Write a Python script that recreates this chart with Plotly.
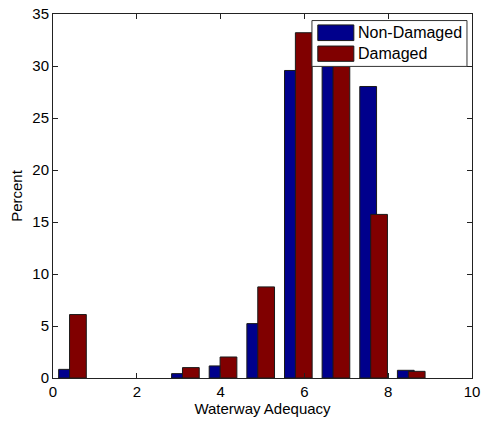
import plotly.graph_objects as go

# Bin centers (Waterway Adequacy)
bin_centers = [0.465, 1.363, 2.262, 3.16, 4.058, 4.957, 5.855, 6.753, 7.652, 8.55]
non_damaged = [0.83, 0.0, 0.0, 0.42, 1.16, 5.23, 29.57, 34.0, 28.03, 0.74]
damaged = [6.1, 0.0, 0.0, 1.0, 2.02, 8.76, 33.2, 32.5, 15.73, 0.64]
series_names = ["Non-Damaged", "Damaged"]
x_ticks = [0, 2, 4, 6, 8, 10]
y_ticks = [0, 5, 10, 15, 20, 25, 30, 35]

blue = "#00008C"
red = "#800000"
font_family = "Liberation Sans, Arial, Helvetica, sans-serif"


def edge_widths(vals):
    return [1 if v > 0 else 0 for v in vals]


fig = go.Figure()
fig.add_trace(go.Bar(x=bin_centers, y=non_damaged, name=series_names[0],
                     width=0.4, offset=-0.33,
                     marker=dict(color=blue, line=dict(color="#1a1a1a", width=edge_widths(non_damaged)))))
fig.add_trace(go.Bar(x=bin_centers, y=damaged, name=series_names[1],
                     width=0.4, offset=-0.07,
                     marker=dict(color=red, line=dict(color="#1a1a1a", width=edge_widths(damaged)))))

axis_common = dict(showline=True, linecolor="#222", linewidth=1, mirror="ticks", ticks="inside",
                   ticklen=5, tickcolor="#222", showgrid=False, zeroline=False, automargin=False,
                   tickfont=dict(size=15, color="black", family=font_family))

fig.update_layout(
    width=481, height=423,
    margin=dict(l=53, r=9, t=14, b=45),
    paper_bgcolor="white", plot_bgcolor="white",
    barmode="overlay", showlegend=False,
    font=dict(family=font_family, color="black", size=15),
    xaxis=dict(range=[0, 10], tickvals=x_ticks, title=dict(text="Waterway Adequacy", standoff=4,
               font=dict(size=15)), **axis_common),
    yaxis=dict(range=[0, 35], tickvals=y_ticks, title=dict(text="Percent", standoff=6,
               font=dict(size=15)), **axis_common),
)

# Custom legend box (MATLAB style)
shapes = [
    dict(type="rect", xref="paper", yref="paper", x0=0.618, x1=0.988, y0=0.856, y1=0.982,
         fillcolor="white", line=dict(color="#333", width=1), layer="above"),
    dict(type="rect", xref="paper", yref="paper", x0=0.632, x1=0.718, y0=0.927, y1=0.970,
         fillcolor=blue, line=dict(color="#1a1a1a", width=1), layer="above"),
    dict(type="rect", xref="paper", yref="paper", x0=0.632, x1=0.718, y0=0.870, y1=0.912,
         fillcolor=red, line=dict(color="#1a1a1a", width=1), layer="above"),
]
fig.update_layout(shapes=shapes)
fig.add_annotation(xref="paper", yref="paper", x=0.722, y=0.948, text=series_names[0],
                   showarrow=False, xanchor="left", yanchor="middle", font=dict(size=16))
fig.add_annotation(xref="paper", yref="paper", x=0.722, y=0.891, text=series_names[1],
                   showarrow=False, xanchor="left", yanchor="middle", font=dict(size=16))

fig.write_html("out.html")
